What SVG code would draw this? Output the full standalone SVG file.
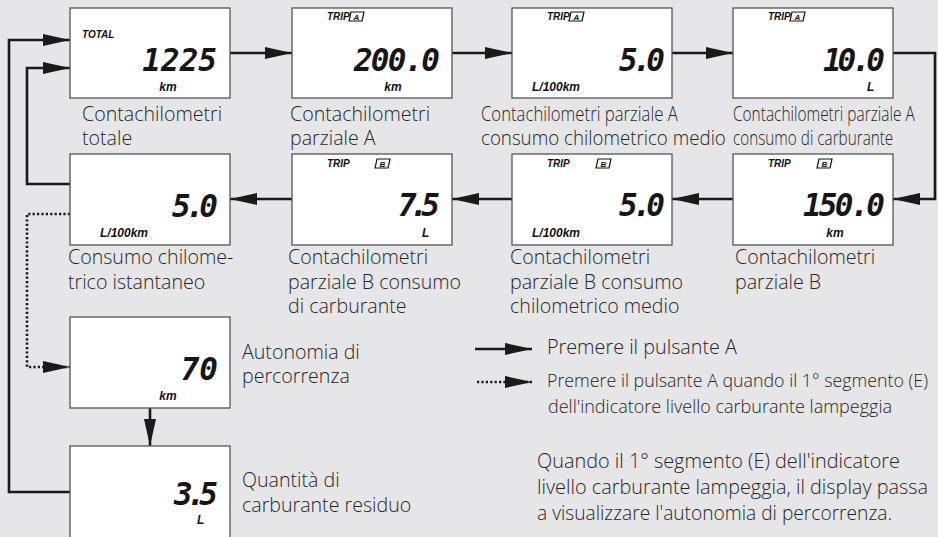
<svg xmlns="http://www.w3.org/2000/svg" xmlns:xlink="http://www.w3.org/1999/xlink" width="938" height="537" viewBox="0 0 938 537">
<defs>
<style>
.bg{fill:#e6e6e8}
.box{fill:#fff;stroke:#555;stroke-width:1.3}
.lbl{font-family:"Open Sans","Liberation Sans",sans-serif;font-weight:300;font-size:19.6px;fill:#262626}
.leg{font-family:"Open Sans","Liberation Sans",sans-serif;font-weight:300;font-size:17.8px;fill:#262626}
.dig{font-family:"DejaVu Sans Mono",monospace;font-weight:bold;font-style:italic;font-size:31px;fill:#161616;text-anchor:end}
.tag{font-family:"Liberation Sans",Arial,sans-serif;font-weight:bold;font-style:italic;font-size:10px;fill:#111}
.unit{font-family:"Liberation Sans",Arial,sans-serif;font-weight:bold;font-style:italic;font-size:12px;fill:#111}
.con{fill:none;stroke:#1a1a1a;stroke-width:2.6}
.dot{fill:none;stroke:#1a1a1a;stroke-width:2.6;stroke-dasharray:2.2 2.2}
.arr{marker-end:url(#ah)}
.bl{fill:none;stroke:#111;stroke-width:1.2}
.bt{font-family:"Liberation Sans",Arial,sans-serif;font-weight:bold;font-style:italic;font-size:8px;fill:#111;text-anchor:middle}
</style>
<marker id="ah" markerUnits="userSpaceOnUse" markerWidth="28" markerHeight="14" refX="27" refY="7" orient="auto">
<path d="M0,1 L27,7 L0,13 Z" fill="#1a1a1a"/>
</marker>
<g id="bA"><polygon class="bl" points="2,0 15,0 13,9 0,9"/><text class="bt" x="7.5" y="8">A</text></g>
<g id="bB"><polygon class="bl" points="2,0 15,0 13,9 0,9"/><text class="bt" x="7.5" y="8">B</text></g>
</defs>
<rect class="bg" x="0" y="0" width="938" height="537"/>

<g id="connectors">
<path class="con arr" d="M230,53 H292"/>
<path class="con arr" d="M452,53 H512"/>
<path class="con arr" d="M672,53 H733"/>
<path class="con arr" d="M893,53 H935 V199 H893"/>
<path class="con arr" d="M733,199 H672"/>
<path class="con arr" d="M512,199 H452"/>
<path class="con arr" d="M292,199 H230"/>
<path class="con arr" d="M70,184 H27 V68 H70"/>
<path class="dot arr" d="M70,214 H27 V367 H70"/>
<path class="con arr" d="M150,408 V446"/>
<path class="con arr" d="M70,492 H9 V40 H70"/>
</g>

<g id="n-total">
<rect class="box" x="70" y="8" width="160" height="90"/>
<text class="tag" x="82" y="38">TOTAL</text>
<text class="dig" x="217" y="71">1225</text>
<text class="unit" x="168" y="91" text-anchor="middle">km</text>
<text class="lbl" x="82" y="121">Contachilometri</text>
<text class="lbl" x="82" y="145">totale</text>
</g>

<g id="n-tripA">
<rect class="box" x="292" y="8" width="160" height="90"/>
<text class="tag" x="327" y="20">TRIP</text>
<use xlink:href="#bA" x="349" y="12"/>
<text class="dig" x="440" y="71" textLength="86" lengthAdjust="spacing">200.0</text>
<text class="unit" x="393" y="91" text-anchor="middle">km</text>
<text class="lbl" x="290" y="121">Contachilometri</text>
<text class="lbl" x="290" y="145">parziale A</text>
</g>

<g id="n-tripA-avg">
<rect class="box" x="512" y="8" width="160" height="90"/>
<text class="tag" x="547" y="20">TRIP</text>
<use xlink:href="#bA" x="569" y="12"/>
<text class="dig" x="665" y="71" textLength="46" lengthAdjust="spacing">5.0</text>
<text class="unit" x="532" y="91">L/100km</text>
<text class="lbl" transform="translate(481,121) scale(0.853,1)">Contachilometri parziale A</text>
<text class="lbl" transform="translate(481,145) scale(0.955,1)">consumo chilometrico medio</text>
</g>

<g id="n-tripA-fuel">
<rect class="box" x="733" y="8" width="160" height="90"/>
<text class="tag" x="768" y="20">TRIP</text>
<use xlink:href="#bA" x="790" y="12"/>
<text class="dig" x="885" y="71" textLength="62" lengthAdjust="spacing">10.0</text>
<text class="unit" x="867" y="91">L</text>
<text class="lbl" transform="translate(733,121) scale(0.788,1)">Contachilometri parziale A</text>
<text class="lbl" transform="translate(733,145) scale(0.78,1)">consumo di carburante</text>
</g>

<g id="n-tripB">
<rect class="box" x="733" y="154" width="160" height="91"/>
<text class="tag" x="768" y="167">TRIP</text>
<use xlink:href="#bB" x="817" y="159"/>
<text class="dig" x="885" y="216" textLength="82" lengthAdjust="spacing">150.0</text>
<text class="unit" x="835" y="237" text-anchor="middle">km</text>
<text class="lbl" x="735" y="264">Contachilometri</text>
<text class="lbl" x="735" y="289">parziale B</text>
</g>

<g id="n-tripB-avg">
<rect class="box" x="512" y="154" width="160" height="91"/>
<text class="tag" x="547" y="167">TRIP</text>
<use xlink:href="#bB" x="596" y="159"/>
<text class="dig" x="665" y="216" textLength="46" lengthAdjust="spacing">5.0</text>
<text class="unit" x="532" y="237">L/100km</text>
<text class="lbl" x="510" y="264">Contachilometri</text>
<text class="lbl" x="510" y="289">parziale B consumo</text>
<text class="lbl" x="510" y="313">chilometrico medio</text>
</g>

<g id="n-tripB-fuel">
<rect class="box" x="292" y="154" width="160" height="91"/>
<text class="tag" x="327" y="167">TRIP</text>
<use xlink:href="#bB" x="375" y="159"/>
<text class="dig" x="440" y="216" textLength="42" lengthAdjust="spacing">7.5</text>
<text class="unit" x="422" y="237">L</text>
<text class="lbl" x="288" y="264">Contachilometri</text>
<text class="lbl" x="288" y="289">parziale B consumo</text>
<text class="lbl" x="288" y="313">di carburante</text>
</g>

<g id="n-instant">
<rect class="box" x="70" y="154" width="160" height="91"/>
<text class="dig" x="218" y="217" textLength="46" lengthAdjust="spacing">5.0</text>
<text class="unit" x="100" y="237">L/100km</text>
<text class="lbl" x="68" y="264">Consumo chilome-</text>
<text class="lbl" x="68" y="289">trico istantaneo</text>
</g>

<g id="n-range">
<rect class="box" x="70" y="317" width="160" height="91"/>
<text class="dig" x="218" y="380">70</text>
<text class="unit" x="168" y="400" text-anchor="middle">km</text>
<text class="lbl" x="242" y="359">Autonomia di</text>
<text class="lbl" x="242" y="383">percorrenza</text>
</g>

<g id="n-residual">
<rect class="box" x="70" y="446" width="160" height="100"/>
<text class="dig" x="218" y="505" textLength="44" lengthAdjust="spacing">3.5</text>
<text class="unit" x="197" y="524">L</text>
<text class="lbl" x="242" y="487">Quantità di</text>
<text class="lbl" x="242" y="512">carburante residuo</text>
</g>

<g id="legend">
<path class="con arr" d="M475,349 H532"/>
<path class="dot arr" d="M477,382 H532"/>
<text class="lbl" x="547" y="354" textLength="190" lengthAdjust="spacingAndGlyphs">Premere il pulsante A</text>
<text class="leg" x="547" y="387" textLength="381" lengthAdjust="spacingAndGlyphs">Premere il pulsante A quando il 1° segmento (E)</text>
<text class="leg" x="548" y="413" textLength="344" lengthAdjust="spacingAndGlyphs">dell'indicatore livello carburante lampeggia</text>
<text class="lbl" x="537" y="468" textLength="363" lengthAdjust="spacingAndGlyphs">Quando il 1° segmento (E) dell'indicatore</text>
<text class="lbl" x="537" y="494" textLength="391" lengthAdjust="spacingAndGlyphs">livello carburante lampeggia, il display passa</text>
<text class="lbl" x="537" y="520" textLength="355" lengthAdjust="spacingAndGlyphs">a visualizzare l'autonomia di percorrenza.</text>
</g>
</svg>
